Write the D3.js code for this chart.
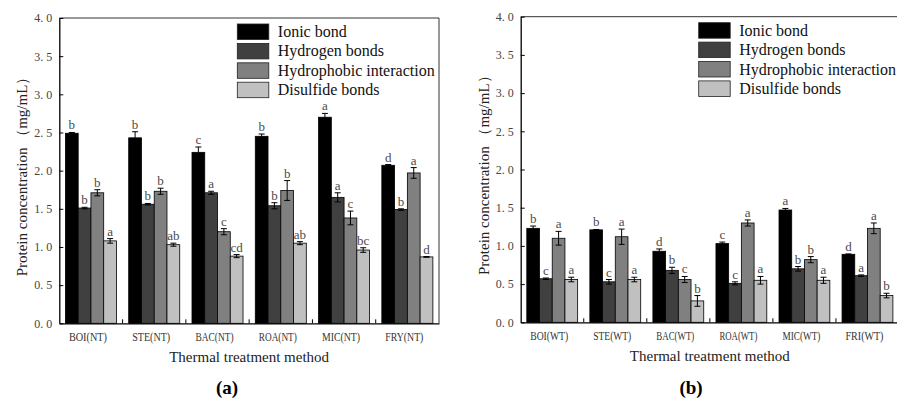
<!DOCTYPE html>
<html>
<head>
<meta charset="utf-8">
<script src="https://cdn.jsdelivr.net/npm/d3@7"></script>
<style>
  body { margin: 0; background: #fff; }
  svg { display: block; font-family: "Liberation Serif", serif; }
</style>
</head>
<body>
<div id="chart"></div>
<script>
// categories
const bondTypes = ['Ionic bond', 'Hydrogen bonds', 'Hydrophobic interaction', 'Disulfide bonds'];
const groupsNT = ['BOI(NT)', 'STE(NT)', 'BAC(NT)', 'ROA(NT)', 'MIC(NT)', 'FRY(NT)'];
const groupsWT = ['BOI(WT)', 'STE(WT)', 'BAC(WT)', 'ROA(WT)', 'MIC(WT)', 'FRI(WT)'];
const yTicks = [0, 0.5, 1, 1.5, 2, 2.5, 3, 3.5, 4];

// (a) NT values, one row per bond type
const ionicNT = [2.49, 2.43, 2.24, 2.45, 2.70, 2.07];
const hydrogenNT = [1.51, 1.56, 1.71, 1.54, 1.65, 1.49];
const hydrophobicNT = [1.71, 1.73, 1.20, 1.74, 1.38, 1.97];
const disulfideNT = [1.08, 1.03, 0.88, 1.05, 0.96, 0.87];
const ionicErrNT = [0.01, 0.08, 0.07, 0.03, 0.05, 0.01];
const hydrogenErrNT = [0.01, 0.01, 0.02, 0.04, 0.06, 0.01];
const hydrophobicErrNT = [0.04, 0.04, 0.04, 0.13, 0.09, 0.07];
const disulfideErrNT = [0.03, 0.02, 0.02, 0.02, 0.03, 0.005];
const ionicSigNT = ['b', 'b', 'c', 'b', 'a', 'd'];
const hydrogenSigNT = ['b', 'b', 'a', 'b', 'a', 'b'];
const hydrophobicSigNT = ['b', 'b', 'c', 'b', 'c', 'a'];
const disulfideSigNT = ['a', 'ab', 'cd', 'ab', 'bc', 'd'];

// (b) WT values
const ionicWT = [1.23, 1.21, 0.93, 1.03, 1.47, 0.89];
const hydrogenWT = [0.57, 0.53, 0.68, 0.51, 0.70, 0.61];
const hydrophobicWT = [1.10, 1.12, 0.56, 1.30, 0.82, 1.23];
const disulfideWT = [0.56, 0.56, 0.28, 0.55, 0.55, 0.35];
const ionicErrWT = [0.03, 0.005, 0.03, 0.02, 0.02, 0.005];
const hydrogenErrWT = [0.01, 0.03, 0.04, 0.02, 0.03, 0.01];
const hydrophobicErrWT = [0.09, 0.10, 0.04, 0.04, 0.04, 0.07];
const disulfideErrWT = [0.03, 0.03, 0.07, 0.05, 0.04, 0.03];
const ionicSigWT = ['b', 'b', 'd', 'c', 'a', 'd'];
const hydrogenSigWT = ['c', 'c', 'b', 'c', 'b', 'a'];
const hydrophobicSigWT = ['a', 'a', 'c', 'a', 'b', 'a'];
const disulfideSigWT = ['a', 'a', 'b', 'a', 'a', 'b'];

const fills = ['#000000', '#404040', '#808080', '#c0c0c0'];

function makeRows(groups, vals, errs, sigs) {
    const rows = [];
    groups.forEach((g, i) => {
        bondTypes.forEach((b, j) => {
            rows.push({group: g, bond: b, value: vals[j][i], err: errs[j][i], sig: sigs[j][i]});
        });
    });
    return rows;
}

const svg = d3.select('#chart').append('svg')
    .attr('width', 897)
    .attr('height', 401);

function drawPanel(p) {
    const g = svg.append('g');
    const x = d3.scaleBand().domain(p.groups).range([p.left, p.right]);
    const xi = d3.scaleBand().domain(bondTypes).range([0, x.bandwidth()]).paddingOuter(0.48);
    const y = d3.scaleLinear().domain([0, 4]).range([p.bottom, p.top]);
    const color = d3.scaleOrdinal().domain(bondTypes).range(fills);
    const rows = makeRows(p.groups, p.vals, p.errs, p.sigs);

    // frame
    g.append('path')
        .attr('d', `M${p.left},${p.top}H${p.right}V${p.bottom}`)
        .attr('fill', 'none')
        .attr('stroke', '#333')
        .attr('stroke-width', 1);

    // bars
    g.selectAll('rect.bar').data(rows).join('rect')
        .attr('class', 'bar')
        .attr('x', d => x(d.group) + xi(d.bond))
        .attr('y', d => y(d.value))
        .attr('width', xi.bandwidth())
        .attr('height', d => y(0) - y(d.value))
        .attr('fill', d => color(d.bond))
        .attr('stroke', '#000')
        .attr('stroke-width', 0.8);

    // error bars
    const eb = g.selectAll('g.err').data(rows).join('g')
        .attr('class', 'err')
        .attr('transform', d => `translate(${x(d.group) + xi(d.bond) + xi.bandwidth() / 2},0)`)
        .attr('stroke', '#000')
        .attr('stroke-width', 1);
    eb.append('line')
        .attr('y1', d => y(d.value - d.err))
        .attr('y2', d => y(d.value + d.err));
    eb.append('line')
        .attr('x1', -3).attr('x2', 3)
        .attr('y1', d => y(d.value + d.err))
        .attr('y2', d => y(d.value + d.err));
    eb.append('line')
        .attr('x1', -3).attr('x2', 3)
        .attr('y1', d => y(d.value - d.err))
        .attr('y2', d => y(d.value - d.err));

    // significance letters
    g.selectAll('text.sig').data(rows).join('text')
        .attr('class', 'sig')
        .attr('x', d => x(d.group) + xi(d.bond) + xi.bandwidth() / 2)
        .attr('y', d => y(d.value + d.err) - 3)
        .attr('text-anchor', 'middle')
        .attr('font-size', 13)
        .attr('fill', '#4a4a4a')
        .text(d => d.sig);

    // y axis
    const ya = g.append('g')
        .attr('transform', `translate(${p.left},0)`)
        .call(d3.axisLeft(y)
            .tickValues(yTicks)
            .tickSizeInner(-4)
            .tickSizeOuter(0)
            .tickPadding(7)
            .tickFormat(d => d3.format('.1f')(d).replace('.', '. ')));
    ya.select('.domain').attr('stroke', '#000').attr('stroke-width', 1.3);
    ya.selectAll('.tick line').attr('stroke', '#000');
    ya.selectAll('.tick text')
        .attr('font-family', 'Liberation Serif')
        .attr('font-size', 12)
        .attr('fill', '#444');

    // x axis
    const xa = g.append('g')
        .attr('transform', `translate(0,${p.bottom})`)
        .call(d3.axisBottom(x).tickSize(0).tickPadding(8));
    xa.select('.domain').attr('stroke', '#000').attr('stroke-width', 1.3);
    xa.selectAll('.tick text')
        .attr('font-family', 'Liberation Serif')
        .attr('font-size', 13)
        .attr('dx', -3)
        .attr('textLength', 38)
        .attr('lengthAdjust', 'spacingAndGlyphs')
        .attr('fill', '#333');
    // small inward ticks between groups
    xa.selectAll('line.sep').data(p.groups.slice(1)).join('line')
        .attr('class', 'sep')
        .attr('x1', d => x(d)).attr('x2', d => x(d))
        .attr('y1', 0).attr('y2', -4)
        .attr('stroke', '#000');

    // axis titles
    g.append('text')
        .attr('transform', `translate(${p.left - 37},${p.top + 155}) rotate(-90)`)
        .attr('text-anchor', 'middle')
        .attr('dominant-baseline', 'central')
        .attr('font-size', 15)
        .attr('fill', '#222')
        .text('Protein concentration （mg/mL）');
    g.append('text')
        .attr('x', (p.left + p.right) / 2)
        .attr('y', p.bottom + 39)
        .attr('text-anchor', 'middle')
        .attr('font-size', 15)
        .attr('fill', '#222')
        .text('Thermal treatment method');

    // legend
    const lg = g.append('g')
        .attr('transform', `translate(${p.left + 178},${p.top + 6})`);
    const li = lg.selectAll('g').data(bondTypes).join('g')
        .attr('transform', (d, i) => `translate(0,${i * 19.4})`);
    li.append('rect')
        .attr('width', 31.5)
        .attr('height', 15.5)
        .attr('fill', d => color(d))
        .attr('stroke', '#222')
        .attr('stroke-width', 0.8);
    li.append('text')
        .attr('x', 40.5)
        .attr('y', 13)
        .attr('font-size', 16)
        .attr('fill', '#111')
        .text(d => d);

    // panel label
    g.append('text')
        .attr('x', p.labelX)
        .attr('y', 394)
        .attr('text-anchor', 'middle')
        .attr('font-size', 19)
        .attr('font-weight', 'bold')
        .attr('fill', '#000')
        .text(p.label);
}

drawPanel({
    groups: groupsNT,
    vals: [ionicNT, hydrogenNT, hydrophobicNT, disulfideNT],
    errs: [ionicErrNT, hydrogenErrNT, hydrophobicErrNT, disulfideErrNT],
    sigs: [ionicSigNT, hydrogenSigNT, hydrophobicSigNT, disulfideSigNT],
    left: 59.3, right: 439, top: 18, bottom: 323.3,
    labelX: 227, label: '(a)'
});

drawPanel({
    groups: groupsWT,
    vals: [ionicWT, hydrogenWT, hydrophobicWT, disulfideWT],
    errs: [ionicErrWT, hydrogenErrWT, hydrophobicErrWT, disulfideErrWT],
    sigs: [ionicSigWT, hydrogenSigWT, hydrophobicSigWT, disulfideSigWT],
    left: 520.7, right: 899, top: 16.7, bottom: 322.3,
    labelX: 691, label: '(b)'
});
</script>
</body>
</html>
